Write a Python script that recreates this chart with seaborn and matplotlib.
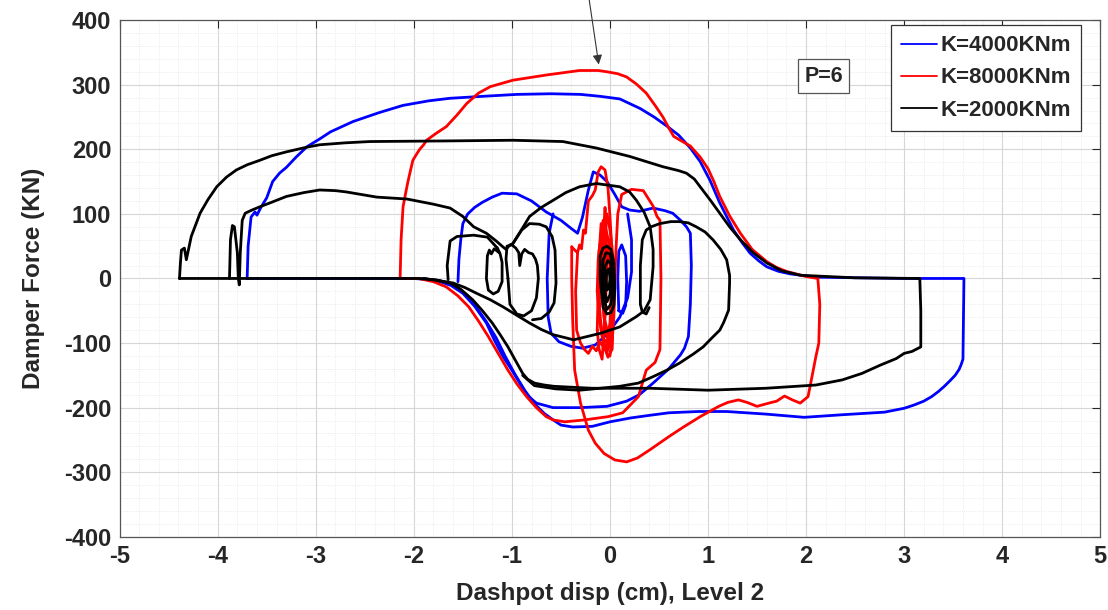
import numpy as np
import pandas as pd
import matplotlib
matplotlib.use("Agg")
import matplotlib.pyplot as plt
from matplotlib.lines import Line2D
import seaborn as sns

# ---------------- data ----------------
series_labels = ["K=4000KNm", "K=8000KNm", "K=2000KNm"]
series_colors = ["#0000ff", "#ff0000", "#000000"]

# K=4000 (blue)
blue_outer_x = [-3.70, -3.69, -3.66, -3.62, -3.60, -3.56, -3.50, -3.44, -3.37, -3.30, -3.20, -3.09, -2.95, -2.85,
                -2.62, -2.35, -2.11, -1.85, -1.63, -1.30, -0.95, -0.60, -0.30, -0.10, 0.10, 0.31, 0.45, 0.58,
                0.70, 0.82, 0.92, 1.02, 1.12, 1.19, 1.26, 1.35, 1.43, 1.52, 1.60, 1.72, 1.84, 2.11, 3.00, 3.61,
                3.60, 3.58, 3.56, 3.52, 3.47, 3.41, 3.35, 3.28, 3.20, 3.10, 3.00, 2.80, 2.37, 1.98, 1.59, 1.19,
                0.90, 0.60, 0.40, 0.21, 0.00, -0.18, -0.38, -0.50, -0.57, -0.67, -0.77, -0.87, -0.97, -1.07, -1.16,
                -1.26, -1.36, -1.45, -1.55, -1.65, -1.75, -2.00, -3.70]
blue_outer_y = [0, 50, 95, 103, 98, 110, 125, 150, 163, 172, 188, 204, 217, 227,
                243, 257, 268, 275, 279, 282, 285, 286, 285, 282, 278, 263, 250, 236,
                222, 202, 181, 152, 117, 96, 75, 55, 39, 27, 18, 11, 7, 2, 0, 0,
                -125, -134, -141, -150, -158, -167, -175, -183, -190, -196, -201, -207, -211, -215, -210, -206,
                -206, -208, -212, -216, -222, -229, -230, -227, -220, -209, -194, -173, -148, -120, -92,
                -67, -45, -27, -14, -7, -3, 0, 0]
blue_mid_x = [-1.55, -1.54, -1.52, -1.50, -1.45, -1.38, -1.30, -1.20, -1.10, -0.95, -0.80, -0.65, -0.50, -0.40,
              -0.33, -0.28, -0.22, -0.17, -0.10, -0.03, 0.05, 0.12, 0.20, 0.30, 0.44, 0.56, 0.64, 0.72, 0.78,
              0.82, 0.83, 0.82, 0.80, 0.76, 0.72, 0.60, 0.44, 0.30, 0.17, -0.03, -0.30, -0.58, -0.75, -0.85,
              -0.92, -1.00, -1.09, -1.18, -1.26, -1.38, -1.50, -1.62, -1.73, -1.90]
blue_mid_y = [-5, 30, 62, 85, 100, 110, 118, 126, 132, 131, 120, 103, 90, 78,
              70, 95, 137, 165, 160, 150, 130, 111, 106, 104, 109, 105, 101, 90, 80,
              70, 20, -40, -90, -108, -118, -140, -162, -180, -190, -198, -200, -200, -193, -180,
              -162, -142, -121, -95, -69, -43, -23, -11, -5, 0]
blue_inner_x = [-0.58, -0.62, -0.64, -0.63, -0.60, -0.52, -0.40, -0.28, -0.15, -0.02, 0.10, 0.18, 0.22, 0.22, 0.18]
blue_inner_y = [100, 70, 0, -60, -85, -98, -105, -108, -103, -85, -60, -30, 10, 60, 100]
blue_oval_x = [0.09, 0.08, 0.09, 0.12, 0.16, 0.17, 0.16, 0.13, 0.09]
blue_oval_y = [-50, 0, 42, 52, 35, -5, -42, -54, -50]

# K=8000 (red)
red_outer_x = [-2.14, -2.13, -2.11, -2.08, -2.06, -2.03, -2.01, -1.97, -1.94, -1.90, -1.87, -1.77, -1.67, -1.56,
               -1.46, -1.34, -1.22, -0.99, -0.65, -0.31, -0.12, -0.03, 0.08, 0.17, 0.27, 0.37, 0.46, 0.54, 0.60,
               0.65, 0.74, 0.82, 0.92, 1.00, 1.06, 1.12, 1.22, 1.33, 1.45, 1.60, 1.70, 1.80, 2.00, 2.12, 2.14,
               2.13, 2.10, 2.05, 2.02, 1.94, 1.86, 1.78, 1.70, 1.62, 1.50, 1.40, 1.31, 1.20, 1.11, 0.92, 0.75,
               0.60, 0.41, 0.28, 0.17, 0.05, -0.06, -0.15, -0.22, -0.30, -0.36, -0.38, -0.39, -0.39]
red_outer_y = [0, 60, 111, 135, 150, 170, 183, 193, 200, 207, 214, 225, 235, 253,
               271, 287, 297, 307, 315, 322, 322, 320, 317, 312, 301, 287, 268, 250, 233,
               220, 212, 205, 188, 170, 150, 127, 97, 70, 45, 26, 17, 11, 3, 0, -40,
               -100, -121, -160, -183, -193, -188, -182, -190, -193, -198, -192, -188, -192, -198, -214, -230,
               -245, -265, -278, -284, -281, -271, -255, -235, -193, -142, -64, 0, 49]
red_peak_x = [-0.39, -0.36, -0.33, -0.31, -0.29, -0.27, -0.25, -0.22, -0.18, -0.15, -0.12, -0.09, -0.05, -0.02,
              0.00, 0.02, 0.03, 0.03, 0.02, -0.02, -0.06, -0.10, -0.14, -0.18, -0.22, -0.26, -0.30, -0.34, -0.35,
              -0.33]
red_peak_y = [49, 44, 40, 52, 46, 75, 70, 120, 128, 137, 165, 173, 168, 140,
              96, 44, -20, -80, -110, -100, -108, -98, -112, -105, -116, -110, -100, -80, -20,
              40]
red_mid_x = [0.00, 0.04, 0.06, 0.08, 0.12, 0.22, 0.34, 0.44, 0.48, 0.51, 0.52, 0.51, 0.46, 0.37, 0.29, 0.13,
             -0.02, -0.26, -0.46, -0.58, -0.65, -0.75, -0.85, -0.95, -1.04, -1.14, -1.24, -1.34, -1.44, -1.55,
             -1.67, -1.80, -1.95, -2.14]
red_mid_y = [-120, -60, 40, 100, 130, 138, 136, 112, 96, 90, 0, -110, -130, -142, -183, -208,
             -214, -219, -222, -219, -214, -200, -183, -163, -142, -116, -90, -66, -44, -27,
             -13, -5, 0, 0]
red_core1_x = [-0.12, -0.11, -0.08, -0.04, 0.00, 0.03, 0.04, 0.03, 0.02, -0.02, -0.06, -0.10, -0.12]
red_core1_y = [0, 45, 64, 58, 60, 35, -20, -70, -110, -122, -105, -60, 0]
red_core2_x = [-0.13, -0.12, -0.10, -0.07, -0.05, -0.03, 0.00, 0.02, 0.03, 0.01, -0.03, -0.08, -0.11, -0.13]
red_core2_y = [-20, 30, 55, 90, 70, 100, 75, 50, -10, -70, -100, -90, -60, -20]
red_core3_x = [-0.09, -0.08, -0.04, 0.00, 0.02, 0.01, -0.02, -0.06, -0.09]
red_core3_y = [0, 35, 48, 30, -20, -65, -85, -60, 0]
red_core4_x = [-0.11, -0.10, -0.08, -0.06, -0.04, -0.01, 0.01, 0.02, 0.00, -0.03, -0.07, -0.10, -0.11]
red_core4_y = [-30, 20, 60, 40, 75, 55, 30, -40, -95, -115, -95, -70, -30]
red_core5_x = [-0.13, -0.12, -0.11, -0.09, -0.07, -0.05, -0.04, -0.03, -0.05, -0.08, -0.11, -0.13]
red_core5_y = [-80, -20, 40, 85, 60, 110, 80, 20, -60, -125, -110, -80]
red_core6_x = [-0.07, -0.06, -0.04, -0.02, 0.00, 0.01, 0.00, -0.02, -0.05, -0.07]
red_core6_y = [-40, 10, 40, 45, 20, -30, -70, -95, -80, -40]

# K=2000 (black)
black_outer_x = [-4.39, -4.38, -4.37, -4.34, -4.32, -4.27, -4.22, -4.18, -4.10, -4.01, -3.91, -3.81, -3.70, -3.57,
                 -3.45, -3.30, -3.10, -2.96, -2.70, -2.45, -1.63, -0.99, -0.48, -0.14, 0.20, 0.54, 0.70, 0.78,
                 0.86, 0.92, 1.02, 1.12, 1.22, 1.33, 1.46, 1.60, 1.75, 1.94, 2.50, 3.16, 3.17, 3.17, 3.08,
                 3.00, 2.92, 2.76, 2.57, 2.37, 2.10, 1.59, 1.00, 0.41, -0.18, -0.57, -0.67, -0.77, -0.84, -0.89,
                 -0.96, -1.04, -1.12, -1.20, -1.30, -1.40, -1.52, -1.63, -1.78, -1.95, -3.00, -4.39]
black_outer_y = [0, 25, 44, 47, 29, 65, 85, 101, 122, 142, 157, 168, 176, 183,
                 190, 196, 203, 207, 210, 212, 213, 214, 212, 202, 189, 173, 167, 163,
                 154, 142, 122, 101, 80, 60, 40, 24, 12, 5, 1, 0, -50, -106, -113,
                 -116, -124, -134, -147, -157, -165, -170, -173, -170, -170, -167, -165, -162, -156, -147,
                 -128, -106, -87, -69, -50, -33, -17, -7, -2, 0, 0, 0]
black_left_x = [-3.88, -3.87, -3.85, -3.83, -3.80, -3.79, -3.78, -3.77, -3.75, -3.72, -3.65, -3.57, -3.45, -3.30,
                -3.12, -2.96, -2.80, -2.69, -2.38, -2.07, -1.80, -1.63, -1.50, -1.39, -1.26, -1.16, -1.10, -1.06,
                -1.02, -0.99, -0.90, -0.82, -0.70, -0.58, -0.45, -0.31, -0.14, 0.10, 0.20, 0.27, 0.35, 0.41, 0.44,
                0.44, 0.41, 0.35, 0.27, 0.10, -0.10, -0.37, -0.58, -0.70, -0.82, -0.95, -1.09, -1.22, -1.36,
                -1.48, -1.60, -1.90]
black_left_y = [0, 60, 82, 80, 40, 0, -10, 40, 90, 101, 106, 111, 118, 127,
                133, 137, 136, 134, 126, 123, 115, 109, 96, 80, 70, 58, 50, 45,
                52, 54, 76, 96, 110, 121, 133, 142, 147, 142, 134, 121, 102, 80, 45,
                18, -33, -50, -59, -75, -85, -95, -87, -79, -69, -57, -44, -33, -23,
                -14, -7, 0]
black_box_x = [-1.16, -1.25, -1.39, -1.56, -1.63, -1.66, -1.65]
black_box_y = [49, 64, 67, 65, 58, 20, -2]
black_oval1_x = [-1.13, -1.18, -1.21, -1.23, -1.25, -1.26, -1.24, -1.19, -1.14, -1.10, -1.10, -1.12, -1.15]
black_oval1_y = [40, 46, 38, 44, 35, 0, -18, -24, -20, -5, 25, 38, 48]
black_oval2_x = [-1.04, -1.06, -1.05, -1.00, -0.96, -0.93, -0.92, -0.90, -0.87, -0.83, -0.79, -0.76, -0.74, -0.73,
                 -0.75, -0.80, -0.88, -0.95, -1.02, -1.04]
black_oval2_y = [0, 30, 50, 52, 47, 40, 20, 38, 45, 40, 38, 30, 20, 0,
                 -30, -50, -58, -55, -40, 0]
black_oval3_x = [-0.99, -0.90, -0.82, -0.72, -0.65, -0.59, -0.56, -0.55, -0.57, -0.62, -0.70, -0.79]
black_oval3_y = [54, 75, 85, 84, 80, 65, 44, -7, -38, -52, -62, -64]
black_right_x = [0.40, 0.37, 0.33, 0.31, 0.31, 0.33, 0.37, 0.42, 0.51, 0.62, 0.71, 0.80, 0.88, 0.97, 1.05, 1.13,
                 1.19, 1.22, 1.22, 1.21, 1.16, 1.12, 1.04, 0.95, 0.85, 0.71, 0.58, 0.44, 0.29, 0.10, -0.10, -0.31,
                 -0.55, -0.77, -0.89]
black_right_y = [-45, -55, -52, -40, 20, 60, 75, 80, 85, 88, 88, 86, 80, 72, 60, 45,
                 29, 5, -7, -49, -68, -80, -92, -106, -117, -131, -142, -152, -162, -167, -170, -173,
                 -171, -166, -150]
black_core1_x = [-0.10, -0.10, -0.07, -0.03, 0.01, 0.04, 0.05, 0.04, 0.01, -0.03, -0.07, -0.10]
black_core1_y = [0, 35, 47, 50, 45, 25, -15, -42, -53, -55, -45, 0]
black_core2_x = [-0.08, -0.07, -0.04, 0.00, 0.03, 0.03, 0.01, -0.03, -0.06, -0.08]
black_core2_y = [0, 28, 40, 38, 20, -15, -40, -48, -33, 0]
black_core3_x = [-0.06, -0.05, -0.02, 0.01, 0.015, 0.00, -0.03, -0.05, -0.06]
black_core3_y = [0, 18, 28, 22, 0, -25, -36, -22, 0]
black_core4_x = [-0.04, -0.03, -0.01, 0.00, -0.01, -0.03, -0.04]
black_core4_y = [0, 12, 15, 0, -15, -18, 0]

x_ticks = [-5, -4, -3, -2, -1, 0, 1, 2, 3, 4, 5]
y_ticks = [-400, -300, -200, -100, 0, 100, 200, 300, 400]
x_label = "Dashpot disp (cm), Level 2"
y_label = "Damper Force (KN)"
note_text = "P=6"

segments = {
    "K=4000KNm": [(blue_outer_x, blue_outer_y), (blue_mid_x, blue_mid_y), (blue_inner_x, blue_inner_y),
                  (blue_oval_x, blue_oval_y)],
    "K=8000KNm": [(red_outer_x, red_outer_y), (red_peak_x, red_peak_y), (red_mid_x, red_mid_y),
                  (red_core1_x, red_core1_y), (red_core2_x, red_core2_y), (red_core3_x, red_core3_y),
                  (red_core4_x, red_core4_y), (red_core5_x, red_core5_y), (red_core6_x, red_core6_y)],
    "K=2000KNm": [(black_outer_x, black_outer_y), (black_left_x, black_left_y), (black_box_x, black_box_y),
                  (black_oval1_x, black_oval1_y), (black_oval2_x, black_oval2_y), (black_oval3_x, black_oval3_y),
                  (black_right_x, black_right_y), (black_core1_x, black_core1_y), (black_core2_x, black_core2_y),
                  (black_core3_x, black_core3_y), (black_core4_x, black_core4_y)],
}

rows = []
for label, segs in segments.items():
    for si, (xs, ys) in enumerate(segs):
        for i, (xv, yv) in enumerate(zip(xs, ys)):
            rows.append({"series": label, "seg": f"{label}_{si}", "order": i, "x": xv, "y": yv})
df = pd.DataFrame(rows)

# ---------------- style ----------------
sns.set_style("white")
plt.rcParams["font.family"] = ["Liberation Sans", "DejaVu Sans"]
plt.rcParams["font.weight"] = "bold"
plt.rcParams["axes.unicode_minus"] = False

fig = plt.figure(figsize=(11.08, 6.10), dpi=100)
ax = fig.add_axes([0.108, 0.12, 0.885, 0.847])

for label, color in zip(series_labels, series_colors):
    sub = df[df["series"] == label]
    sns.lineplot(data=sub, x="x", y="y", units="seg", estimator=None, sort=False,
                 color=color, linewidth=2.0, ax=ax, legend=False,
                 solid_joinstyle="round", solid_capstyle="round")

ax.set_xlim(-5, 5)
ax.set_ylim(-400, 400)
ax.set_xticks(x_ticks)
ax.set_yticks(y_ticks)
ax.set_xticks(np.arange(-5, 5.01, 0.2), minor=True)
ax.set_yticks(np.arange(-400, 401, 20), minor=True)
ax.grid(which="major", color="#d6d6d6", linewidth=0.8)
ax.grid(which="minor", color="#e4e4e4", linewidth=0.6, linestyle=":")
ax.set_axisbelow(True)
ax.tick_params(which="major", direction="in", length=6, width=0.8, top=True, right=True,
               labelsize=17, colors="#262626", pad=6)
ax.tick_params(which="minor", length=0)
for lab in ax.get_xticklabels() + ax.get_yticklabels():
    lab.set_fontweight("bold")
for sp in ax.spines.values():
    sp.set_color("#555555")
    sp.set_linewidth(0.9)

ax.set_xlabel(x_label, fontsize=17.5, fontweight="bold", color="#262626", labelpad=10)
ax.set_ylabel(y_label, fontsize=17.5, fontweight="bold", color="#262626", labelpad=14)

handles = [Line2D([0], [0], color=c, linewidth=1.3) for c in series_colors]
leg = ax.legend(handles, series_labels, loc="upper right", bbox_to_anchor=(0.98, 0.99),
                borderaxespad=0, fancybox=False, framealpha=1, edgecolor="#333333", handlelength=1.6,
                handletextpad=0.15, borderpad=0.45, labelspacing=0.5,
                prop={"weight": "bold", "size": 16})
leg.get_frame().set_linewidth(0.9)

ax.text(2.18, 313, note_text, fontsize=15.5, fontweight="bold", ha="center", va="center",
        bbox=dict(boxstyle="square,pad=0.3", facecolor="white", edgecolor="#555555", linewidth=0.9))

ax.annotate("", xy=(-0.11, 327), xytext=(-0.22, 440), annotation_clip=False,
            arrowprops=dict(arrowstyle="-|>", color="#333333", lw=0.8, mutation_scale=14))

fig.savefig("out.png", dpi=100)
